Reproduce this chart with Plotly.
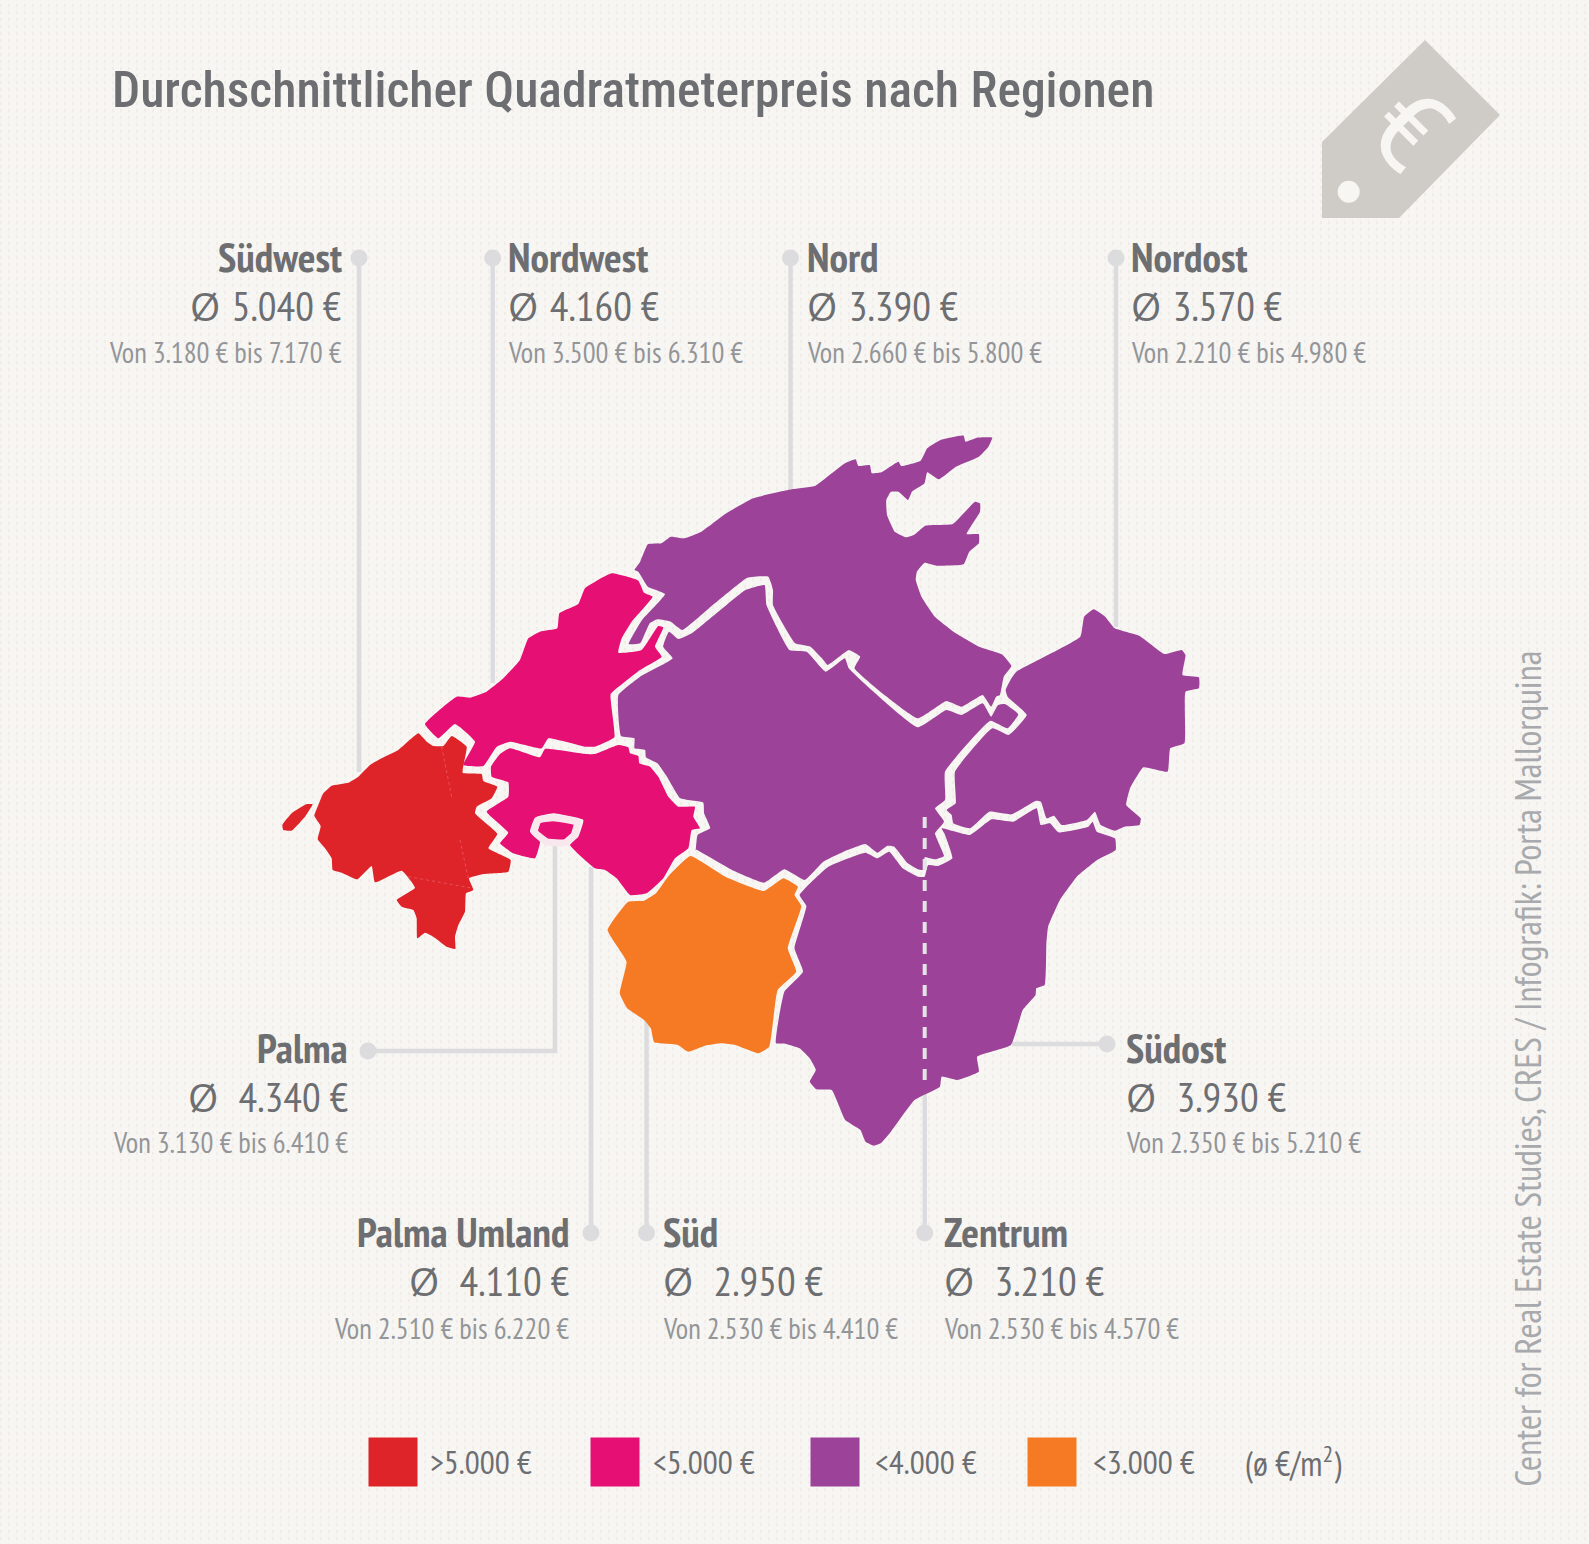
import plotly.graph_objects as go

W, H = 1589, 1544
FONT = "PT Sans Narrow, Open Sans Condensed, Roboto Condensed"
TITLE_FONT = "Roboto Condensed, PT Sans Narrow"
BG = "#f7f6f3"
TXT = "#6d6e71"
TXT_LIGHT = "#939598"
LEADER = "#dcdcde"

RED, PINK, PURPLE, ORANGE = "#de2429", "#e60f73", "#9c4298", "#f57a23"

# price table
names = ["Südwest", "Nordwest", "Nord", "Nordost", "Palma", "Südost", "Palma Umland", "Süd", "Zentrum"]
avg = ["5.040", "4.160", "3.390", "3.570", "4.340", "3.930", "4.110", "2.950", "3.210"]
low = ["3.180", "3.500", "2.660", "2.210", "3.130", "2.350", "2.510", "2.530", "2.530"]
high = ["7.170", "6.310", "5.800", "4.980", "6.410", "5.210", "6.220", "4.410", "4.570"]

legend_labels = [">5.000 €", "<5.000 €", "<4.000 €", "<3.000 €"]
legend_colors = [RED, PINK, PURPLE, ORANGE]

# label placement
label_x = [343.5, 505.7, 804.7, 1129, 349.6, 1124, 570.5, 660.8, 941.5]
label_side = ["right", "left", "left", "left", "right", "left", "right", "left", "left"]
label_y = [256.4, 256.4, 256.4, 256.4, 1047, 1047, 1231, 1231, 1231]
range_drop = [96, 96, 96, 96, 95, 95, 97, 97, 97]
avg_gap = ["\u00a0\u200a", "\u00a0\u200a", "\u00a0\u200a", "\u00a0\u200a", "\u00a0\u00a0\u200a", "\u00a0\u00a0\u200a",
           "\u00a0\u00a0\u200a", "\u00a0\u00a0\u200a", "\u00a0\u00a0\u200a"]


def crop1(pts):
    return [(270 + a / 3, 550 + b / 3) for a, b in pts]


def crop2(pts):
    return [(600 + a / 2.613, 420 + b / 3) for a, b in pts]


def crop3(pts):
    return [(590 + a / 2.958, 780 + b / 3) for a, b in pts]


def crop4(pts):
    return [(930 + a / 3, 760 + b / 3) for a, b in pts]


# region outlines
sw_outline = crop1([(445, 550), (385, 600), (335, 625), (300, 645), (265, 680), (235, 698), (185, 707), (160, 730),
                    (145, 765), (133, 797), (152, 828), (143, 868), (165, 895), (185, 925), (188, 960), (215, 968),
                    (262, 988), (305, 948), (315, 997), (395, 962), (435, 1013), (380, 1050), (395, 1070), (430, 1080),
                    (440, 1105), (442, 1165), (465, 1148), (490, 1160), (530, 1190), (556, 1197), (555, 1160),
                    (565, 1125), (585, 1085), (588, 1030), (610, 1020), (597, 985), (640, 972), (715, 965), (722, 930),
                    (655, 895), (682, 852), (615, 790), (620, 770), (665, 745), (682, 710), (640, 693), (635, 672),
                    (578, 668), (590, 590), (545, 558), (520, 588), (490, 588), (470, 575)])
sw_island = crop1([(37, 825), (65, 790), (108, 763), (128, 763), (105, 800), (65, 842), (40, 840)])
nw_outline = crop1([(465, 522), (560, 440), (600, 443), (650, 425), (700, 385), (750, 330), (775, 265), (810, 245),
                    (862, 235), (868, 190), (925, 162), (945, 115), (1025, 70), (1105, 92), (1122, 128), (1148, 140),
                    (1085, 215), (1055, 265), (1045, 308), (1115, 300), (1165, 228), (1180, 232), (1155, 290),
                    (1175, 320), (1110, 360), (1065, 395), (1022, 432), (1033, 562), (975, 590), (945, 590),
                    (835, 565), (815, 595), (720, 575), (680, 590), (640, 648), (580, 645), (615, 575), (555, 522),
                    (505, 565)])
umland_outline = crop1([(663, 650), (690, 612), (720, 595), (810, 622), (825, 597), (945, 612), (975, 612), (1045, 585),
                        (1075, 592), (1080, 610), (1105, 618), (1108, 640), (1140, 650), (1165, 680), (1195, 740),
                        (1225, 770), (1275, 770), (1270, 800), (1290, 835), (1265, 840), (1255, 895), (1215, 925),
                        (1180, 985), (1130, 1030), (1080, 1035), (1040, 985), (1005, 960), (975, 955), (900, 885),
                        (925, 860), (940, 810), (850, 790), (795, 803), (780, 845), (810, 875), (795, 925), (730, 910),
                        (690, 880), (715, 848), (650, 785), (715, 740), (715, 697), (665, 680)])
palma_outline = crop1([(793, 845), (805, 810), (850, 803), (922, 817), (912, 855), (885, 878), (830, 875)])
nord_outline = crop2([(90, 450), (105, 425), (125, 373), (160, 370), (185, 350), (220, 355), (265, 335), (330, 280),
                      (400, 235), (500, 208), (563, 197), (600, 165), (640, 130), (668, 118), (675, 138), (705, 135),
                      (710, 160), (735, 157), (780, 125), (787, 138), (838, 122), (855, 85), (890, 60), (950, 47),
                      (955, 65), (985, 53), (1025, 53), (1015, 80), (990, 110), (930, 140), (885, 178), (855, 157),
                      (848, 190), (815, 215), (805, 240), (780, 215), (760, 215), (748, 240), (750, 285), (770, 335),
                      (800, 352), (820, 345), (850, 317), (922, 312), (980, 245), (993, 250), (993, 275), (958, 342),
                      (990, 343), (990, 370), (965, 395), (950, 433), (880, 437), (848, 428), (828, 455), (825, 480),
                      (840, 530), (875, 590), (930, 640), (990, 680), (1050, 703), (1075, 738), (1055, 770),
                      (1045, 825), (1035, 830), (1022, 860), (1000, 825), (945, 860), (905, 843), (830, 895), (665, 745),
                      (680, 710), (650, 690), (595, 735), (580, 715), (550, 680), (510, 670), (452, 555), (452, 510),
                      (440, 470), (385, 473), (300, 550), (215, 630), (185, 605), (150, 598), (130, 610), (105, 670),
                      (75, 672), (110, 600), (170, 522), (125, 500), (100, 455)])
central_outline = (
    crop2([(48, 825), (55, 948), (90, 955), (90, 985), (118, 990), (120, 1012), (150, 1030), (175, 1070), (210, 1135),
           (270, 1148), (272, 1180), (288, 1225), (255, 1245), (250, 1292)])
    + crop3([(312, 208), (420, 270), (515, 308), (575, 268), (635, 300), (690, 245), (750, 215), (815, 192), (850, 218),
             (880, 197), (900, 200), (940, 250), (970, 268), (985, 270), (990, 232)])
    + crop4([(15, 298), (42, 288), (15, 220), (42, 185), (15, 145), (45, 120), (45, 35)])
    + crop2([(1020, 902), (1065, 925), (1093, 883), (1058, 852), (1040, 855), (1022, 890), (1000, 850),
             (945, 885), (905, 870), (830, 922), (650, 745), (640, 715), (590, 755), (540, 695), (495, 690), (435, 555),
             (430, 495), (380, 510), (320, 565), (240, 640), (205, 657), (180, 635), (165, 680), (190, 715), (105, 770)])
)
ne_outline = (
    crop2([(1088, 755), (1255, 650), (1265, 590), (1290, 568), (1320, 590), (1345, 625), (1410, 648),
           (1475, 702), (1520, 690), (1530, 705), (1522, 765), (1565, 772), (1565, 805), (1530, 815),
           (1527, 970), (1490, 985), (1483, 1055), (1420, 1042), (1385, 1105), (1375, 1155), (1413, 1195),
           (1410, 1215), (1370, 1220)])
    + crop4([(555, 212), (512, 195), (495, 155), (470, 180), (395, 195), (372, 167), (350, 175), (333, 125), (318, 122),
             (245, 163), (178, 155), (120, 205), (70, 190), (65, 165), (50, 150), (77, 130), (75, 35)])
    + crop2([(1025, 925), (1068, 945), (1115, 885), (1065, 830), (1060, 810), (1075, 775)])
)
south_outline = crop3([(297, 228), (400, 290), (515, 333), (572, 295), (615, 320), (605, 345), (625, 378), (585, 505),
                       (610, 575), (555, 630), (530, 800), (498, 820), (430, 795), (390, 790), (340, 797), (290, 815),
                       (260, 795), (190, 787), (180, 745), (160, 720), (110, 685), (88, 640), (108, 545), (52, 450),
                       (113, 365), (160, 362), (195, 340), (235, 285)])
se_outline = (
    crop3([(550, 790), (575, 635), (630, 575), (605, 505), (640, 378), (620, 345), (705, 260), (815, 218),
           (850, 235), (885, 215), (925, 265), (970, 290), (990, 290), (1000, 255), (1030, 258), (1072, 235)])
    + crop4([(43, 220), (35, 205), (120, 225), (185, 178), (250, 185), (320, 145), (332, 195), (360, 190), (385, 217),
             (475, 200), (488, 185), (500, 215), (555, 235)])
    + crop3([(1555, 210), (1500, 240), (1440, 290), (1390, 360), (1355, 440), (1350, 490), (1345, 615), (1320, 625),
             (1318, 645), (1280, 690), (1245, 795), (1145, 830), (1150, 875), (1085, 900), (1040, 890),
             (1035, 920), (960, 960), (890, 1055), (860, 1090), (840, 1097), (815, 1085), (800, 1050),
             (755, 1020), (715, 930), (670, 928), (650, 905), (668, 870), (650, 835), (620, 805), (580, 792)])
)
sw_seams = [crop1([(515, 590), (545, 740)]), crop1([(570, 870), (595, 985)]), crop1([(415, 980), (610, 1015)])]

tag_outline = [(1425, 40), (1500, 115), (1399, 218), (1322, 218), (1322, 142)]

# leader lines
leaders = [
    [(359, 258), (359, 772)],
    [(492.7, 258), (492.7, 683)],
    [(790.5, 258), (790.5, 489)],
    [(1116, 258), (1116, 627)],
    [(368, 1051), (555, 1051), (555, 845)],
    [(1107, 1044), (1012, 1044)],
    [(591, 1233), (591, 867)],
    [(646.5, 1233), (646.5, 1019)],
    [(924.7, 1233), (924.7, 1090)],
]
dots = [p[0] for p in leaders]
zentrum_dash = [(924.7, 817), (924.7, 1090)]

fig = go.Figure()


def add_shape(pts, color, line_color=None, line_width=0, smooth=0.0):
    xs = [p[0] for p in pts] + [pts[0][0]]
    ys = [p[1] for p in pts] + [pts[0][1]]
    line = dict(color=line_color or color, width=line_width)
    if smooth:
        line.update(shape="spline", smoothing=smooth)
    fig.add_trace(go.Scatter(x=xs, y=ys, mode="lines", fill="toself", fillcolor=color, line=line, hoverinfo="skip"))


def add_line(pts, color=LEADER, width=4.5, dash="solid"):
    fig.add_trace(go.Scatter(x=[p[0] for p in pts], y=[p[1] for p in pts], mode="lines",
                             line=dict(color=color, width=width, dash=dash), hoverinfo="skip"))


def note(x, y, text, size, color=TXT, anchor="left", angle=0, family=FONT, weight=None):
    fig.add_annotation(x=x, y=y, xref="x", yref="y", text=text, showarrow=False, xanchor=anchor, yanchor="middle",
                       textangle=angle, font=dict(family=family, size=size, color=color, weight=weight))


for line in leaders:
    add_line(line)

for outline, color in [(sw_outline, RED), (sw_island, RED), (nw_outline, PINK), (umland_outline, PINK),
                       (nord_outline, PURPLE), (central_outline, PURPLE), (ne_outline, PURPLE),
                       (se_outline, PURPLE), (south_outline, ORANGE)]:
    add_shape(outline, color, smooth=0.35)
add_shape(palma_outline, PINK, "#f8e8ee", 7, smooth=0.35)
for seam in sw_seams:
    add_line(seam, "#e8505a", 1, "3px,3px")
add_line(zentrum_dash, "#e4e4e6", 4, "11px,10px")

fig.add_trace(go.Scatter(x=[p[0] for p in dots], y=[p[1] for p in dots], mode="markers",
                         marker=dict(size=17, color=LEADER), hoverinfo="skip"))

# price tag
add_shape(tag_outline, "#cfcbc7")
fig.add_trace(go.Scatter(x=[1348.7], y=[191.7], mode="markers", marker=dict(size=22, color=BG), hoverinfo="skip"))
note(1409, 128, "€", 112, BG, "center", 45, "Roboto")

note(110, 90, "Durchschnittlicher Quadratmeterpreis nach Regionen", 49.6, TXT, family=TITLE_FONT, weight=500)

for i in range(len(names)):
    slashed_o = "<span style=\"font-family:Open Sans;font-size:39px\">Ø</span>"
    note(label_x[i], label_y[i], "<b>%s</b>" % names[i], 41.5, TXT, label_side[i])
    note(label_x[i], label_y[i] + 49.5, "%s%s%s €" % (slashed_o, avg_gap[i], avg[i]), 41.5, TXT, label_side[i])
    note(label_x[i], label_y[i] + range_drop[i], "Von %s € bis %s €" % (low[i], high[i]), 28.6, TXT_LIGHT, label_side[i])

# legend
legend_x = [393, 615, 835, 1052]
legend_text_x = [427.7, 650.6, 872.6, 1090.5]
fig.add_trace(go.Scatter(x=legend_x, y=[1462] * 4, mode="markers",
                         marker=dict(size=49, symbol="square", color=legend_colors), hoverinfo="skip"))
for x, label in zip(legend_text_x, legend_labels):
    note(x, 1461, label, 33.3, TXT)
note(1242.5, 1461, "(ø €/m<sup>2</sup>)", 34, TXT)

note(1528, 1068.6, "Center for Real Estate Studies, CRES / Infografik: Porta Mallorquina", 36.5, "#a7a9ac", "center", -90)

fig.update_layout(
    width=W, height=H, margin=dict(l=0, r=0, t=0, b=0), showlegend=False,
    paper_bgcolor="rgba(0,0,0,0)", plot_bgcolor="rgba(0,0,0,0)",
    xaxis=dict(range=[0, W], visible=False, fixedrange=True),
    yaxis=dict(range=[H, 0], visible=False, fixedrange=True),
)

# faint woven paper behind the chart
paper = ("document.body.style.margin='0';"
         "document.body.style.backgroundColor='%s';"
         "document.body.style.backgroundImage='repeating-linear-gradient(0deg, rgba(247,246,243,0.9) 0 4px, transparent 4px 7px),"
         " repeating-linear-gradient(90deg, rgba(226,216,212,0.3) 0 2px, transparent 2px 8px)';" % BG)
fig.write_html("out.html", config=dict(displayModeBar=False), post_script=paper)
